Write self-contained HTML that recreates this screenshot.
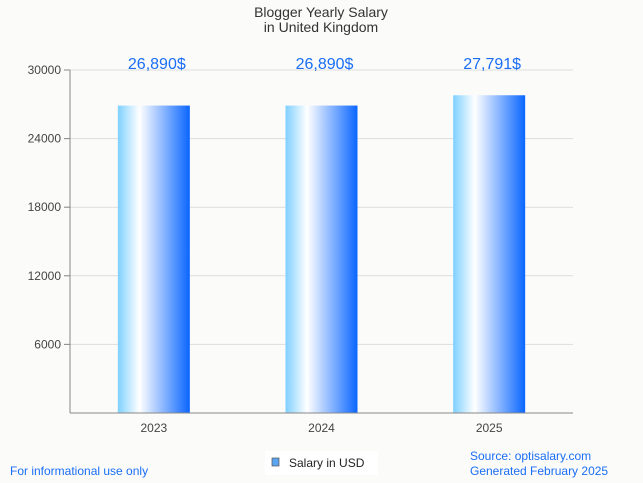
<!DOCTYPE html>
<html><head><meta charset="utf-8"><style>
html,body{margin:0;padding:0;background:#fbfbf9;}
svg{display:block;font-family:"Liberation Sans",sans-serif;}
</style></head><body>
<svg id="chart" width="643" height="483" viewBox="0 0 643 483">
<defs>
<linearGradient id="bg" x1="0" x2="1" y1="0" y2="0">
<stop offset="0" stop-color="#7fd0ff"/>
<stop offset="0.3" stop-color="#ffffff"/>
<stop offset="1" stop-color="#0a66ff"/>
</linearGradient>
</defs>
<rect width="643" height="483" fill="#fbfbf9"/>
<text x="321" y="17" text-anchor="middle" font-size="14" fill="#333">Blogger Yearly Salary</text>
<text x="321" y="32" text-anchor="middle" font-size="14" fill="#333">in United Kingdom</text>
<g id="grid"></g>
<g id="bars"></g>
<line x1="70" y1="70" x2="70" y2="413" stroke="#888" stroke-width="1"/>
<line x1="70" y1="413" x2="573" y2="413" stroke="#888" stroke-width="1"/>
<g>
<rect x="265" y="451" width="113" height="24" fill="#ffffff"/>
<rect x="272" y="458" width="7" height="8" fill="#5aa5f0" stroke="#555" stroke-width="0.7"/>
<text x="289" y="467" font-size="12" fill="#222">Salary in USD</text>
</g>
<text x="10" y="475" font-size="12" fill="#1a6ef5">For informational use only</text>
<text x="470" y="460" font-size="12" fill="#1a6ef5">Source: optisalary.com</text>
<text x="470" y="475" font-size="12" fill="#1a6ef5">Generated February 2025</text>
</svg>
<script>
const categories = ["2023", "2024", "2025"];
const values = [26890, 26890, 27791];
const valueLabels = ["26,890$", "26,890$", "27,791$"];
const ticks = [6000, 12000, 18000, 24000, 30000];

const NS = "http://www.w3.org/2000/svg";
const plotL = 70, plotR = 573, plotT = 70, plotB = 413, yMax = 30000;
const y = v => plotB - (v / yMax) * (plotB - plotT);
const band = (plotR - plotL) / categories.length;
const x = i => plotL + band * (i + 0.5);
const barW = 72;

const grid = document.getElementById("grid");
ticks.forEach(t => {
  const l = document.createElementNS(NS, "line");
  l.setAttribute("x1", 64); l.setAttribute("x2", plotR);
  l.setAttribute("y1", y(t)); l.setAttribute("y2", y(t));
  l.setAttribute("stroke", "#dddddd");
  
  
  grid.appendChild(l);
  const tk = document.createElementNS(NS, "line");
  tk.setAttribute("x1", 64); tk.setAttribute("x2", 70);
  tk.setAttribute("y1", y(t)); tk.setAttribute("y2", y(t));
  tk.setAttribute("stroke", "#888");
  
  
  grid.appendChild(tk);
  const tx = document.createElementNS(NS, "text");
  tx.setAttribute("x", 61); tx.setAttribute("y", y(t) + 4);
  tx.setAttribute("text-anchor", "end"); tx.setAttribute("font-size", "12"); tx.setAttribute("fill", "#444");
  tx.textContent = t;
  
  
  grid.appendChild(tx);
});

const bars = document.getElementById("bars");
categories.forEach((c, i) => {
  const r = document.createElementNS(NS, "rect");
  r.setAttribute("x", x(i) - barW / 2); r.setAttribute("width", barW);
  r.setAttribute("y", y(values[i])); r.setAttribute("height", plotB - y(values[i]));
  r.setAttribute("fill", "url(#bg)");
  
  
  bars.appendChild(r);
  const vl = document.createElementNS(NS, "text");
  vl.setAttribute("x", x(i) + 3); vl.setAttribute("y", 69);
  vl.setAttribute("text-anchor", "middle"); vl.setAttribute("font-size", "16"); vl.setAttribute("fill", "#1a6ef5");
  vl.textContent = valueLabels[i];
  
  
  bars.appendChild(vl);
  const xl = document.createElementNS(NS, "text");
  xl.setAttribute("x", x(i)); xl.setAttribute("y", 432);
  xl.setAttribute("text-anchor", "middle"); xl.setAttribute("font-size", "12"); xl.setAttribute("fill", "#444");
  xl.textContent = c;
  
  
  bars.appendChild(xl);
});
</script>
</body></html>
